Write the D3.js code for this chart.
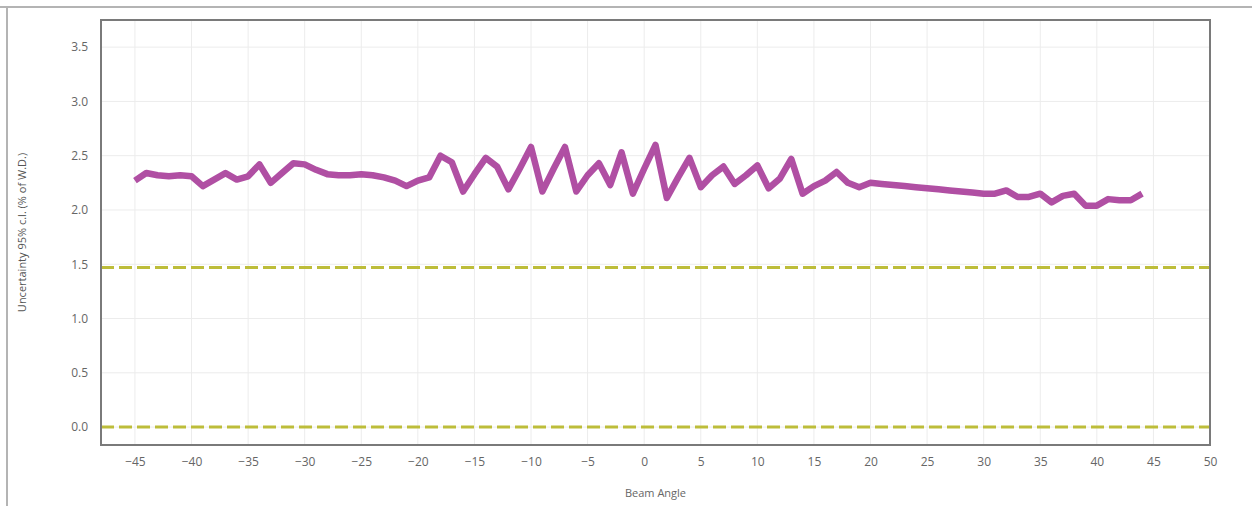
<!DOCTYPE html>
<html>
<head>
<meta charset="utf-8">
<script src="https://cdn.jsdelivr.net/npm/d3@7"></script>
<style>
  html, body { margin: 0; padding: 0; background: #fff; }
  svg { display: block; }
  text { font-family: "Open Sans", "Noto Sans", sans-serif; }
</style>
</head>
<body>
<svg id="chart" width="1252" height="506"></svg>
<script>
// ---- data ----
const angles = d3.range(-45, 45); // -45 .. 44
const uncertainty = [
  2.27, 2.34, 2.32, 2.31, 2.32, 2.31, 2.22, 2.28, 2.34, 2.28,
  2.31, 2.42, 2.25, 2.34, 2.43, 2.42, 2.37, 2.33, 2.32, 2.32,
  2.33, 2.32, 2.30, 2.27, 2.22, 2.27, 2.30, 2.50, 2.44, 2.17,
  2.33, 2.48, 2.40, 2.19, 2.38, 2.58, 2.17, 2.38, 2.58, 2.17,
  2.32, 2.43, 2.23, 2.53, 2.15, 2.38, 2.60, 2.11, 2.30, 2.48,
  2.21, 2.32, 2.40, 2.24, 2.32, 2.41, 2.20, 2.29, 2.47, 2.15,
  2.22, 2.27, 2.35, 2.25, 2.21, 2.25, 2.24, 2.23, 2.22, 2.21,
  2.20, 2.19, 2.18, 2.17, 2.16, 2.15, 2.15, 2.18, 2.12, 2.12,
  2.15, 2.07, 2.13, 2.15, 2.04, 2.04, 2.10, 2.09, 2.09, 2.15
];
const limitLines = [0, 1.47];
const xTicks = d3.range(-45, 51, 5);
const yTicks = [0, 0.5, 1, 1.5, 2, 2.5, 3, 3.5];
const xTitle = "Beam Angle";
const yTitle = "Uncertainty 95% c.l. (% of W.D.)";

// ---- layout ----
const svg = d3.select("#chart");
const W = 1252, H = 506;
const L = 101, R = 1210, T = 20, B = 445;

const x = d3.scaleLinear().domain([-48, 50]).range([L, R]);
const y = d3.scaleLinear().domain([-0.165, 3.75]).range([B, T]);

// outer frame
svg.append("line").attr("x1", 0).attr("x2", W).attr("y1", 7).attr("y2", 7)
  .attr("stroke", "#b4b4b4").attr("stroke-width", 2);
svg.append("line").attr("x1", 7).attr("x2", 7).attr("y1", 7).attr("y2", H)
  .attr("stroke", "#b4b4b4").attr("stroke-width", 2);

// grid
const grid = svg.append("g");
grid.selectAll("line.vx").data(xTicks).join("line")
  .attr("x1", d => x(d)).attr("x2", d => x(d))
  .attr("y1", T).attr("y2", B)
  .attr("stroke", "#ececec").attr("stroke-width", 1);
grid.selectAll("line.hy").data(yTicks).join("line")
  .attr("x1", L).attr("x2", R)
  .attr("y1", d => y(d)).attr("y2", d => y(d))
  .attr("stroke", "#ececec").attr("stroke-width", 1);

// axes (labels only)
const xAxis = d3.axisBottom(x).tickValues(xTicks).tickSize(0).tickPadding(12)
  .tickFormat(d3.format("d"));
const gx = svg.append("g").attr("transform", `translate(0,${B})`).call(xAxis);
gx.select(".domain").remove();
gx.selectAll("text").attr("fill", "#666").style("font-size", "12px")
  .style("font-family", "'Open Sans','Noto Sans',sans-serif");

const yAxis = d3.axisLeft(y).tickValues(yTicks).tickSize(0).tickPadding(13)
  .tickFormat(d3.format(".1f"));
const gy = svg.append("g").attr("transform", `translate(${L},0)`).call(yAxis);
gy.select(".domain").remove();
gy.selectAll("text").attr("fill", "#666").style("font-size", "12px")
  .style("font-family", "'Open Sans','Noto Sans',sans-serif");

// limit dashed lines
svg.selectAll("line.limit").data(limitLines).join("line")
  .attr("class", "limit")
  .attr("x1", L).attr("x2", R)
  .attr("y1", d => y(d)).attr("y2", d => y(d))
  .attr("stroke", "#bdbd3a").attr("stroke-width", 3)
  .attr("stroke-dasharray", "13,5");

// data line
const line = d3.line().x((d, i) => x(angles[i])).y(d => y(d));
svg.append("path").datum(uncertainty)
  .attr("d", line)
  .attr("fill", "none")
  .attr("stroke", "#b04fa3")
  .attr("stroke-width", 6.5)
  .attr("stroke-linejoin", "round")
  .attr("stroke-linecap", "butt");

// plot frame
svg.append("rect").attr("x", L).attr("y", T).attr("width", R - L).attr("height", B - T)
  .attr("fill", "none").attr("stroke", "#7a7a7a").attr("stroke-width", 2);

// titles
svg.append("text").attr("x", (L + R) / 2).attr("y", 497)
  .attr("text-anchor", "middle").attr("fill", "#666").style("font-size", "11px")
  .text(xTitle);
svg.append("text")
  .attr("transform", `translate(26,${(T + B) / 2}) rotate(-90)`)
  .attr("text-anchor", "middle").attr("fill", "#555").style("font-size", "11px")
  .text(yTitle);
</script>
</body>
</html>
